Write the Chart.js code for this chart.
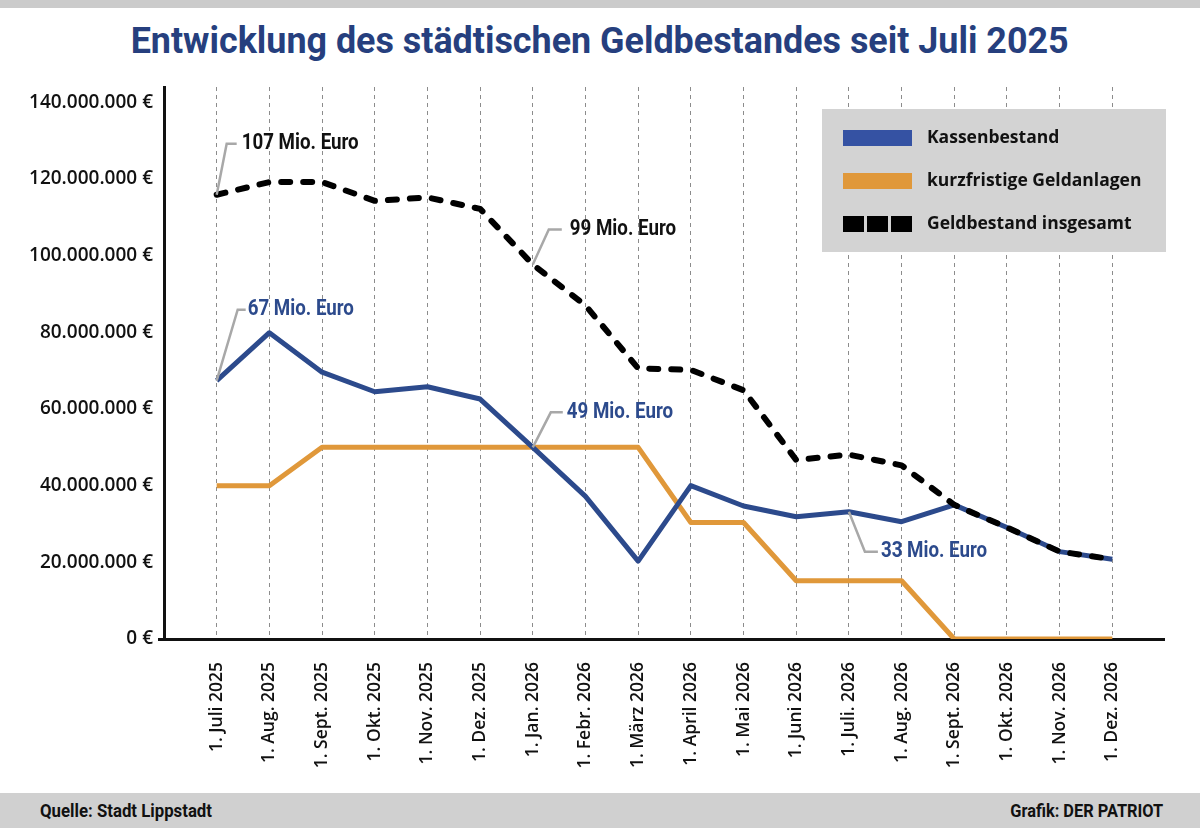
<!DOCTYPE html>
<html lang="de">
<head>
<meta charset="utf-8">
<title>Entwicklung des städtischen Geldbestandes seit Juli 2025</title>
<script src="https://cdn.jsdelivr.net/npm/chart.js@4/dist/chart.umd.min.js"></script>
<style>
  body { margin: 0; width: 1200px; height: 828px; background: #fff; position: relative; overflow: hidden; }
  .topbar { position: absolute; left: 0; top: 0; width: 1200px; height: 8px; background: #cbcbcb; }
  h1 {
    position: absolute; left: 0; top: 22px; width: 1200px; margin: 0;
    text-align: center; font: bold 37px/37px Roboto, sans-serif;
    color: #263f7e; white-space: nowrap;
  }
  h1 span { display: inline-block; transform-origin: center; }
  .footer {
    position: absolute; left: 0; top: 793px; width: 1200px; height: 35px; background: #d0d0d0;
    font: bold 18px/35px Roboto, sans-serif; color: #111; white-space: nowrap;
  }
  .footer span { position: absolute; display: inline-block; }
  .footer .left { left: 40px; transform-origin: left center; }
  .footer .right { right: 37px; transform-origin: right center; }
  #chart { position: absolute; left: 0; top: 0; }
</style>
</head>
<body>
<div class="topbar"></div>
<h1><span data-w="938">Entwicklung des städtischen Geldbestandes seit Juli 2025</span></h1>
<canvas id="chart" width="1200" height="828"></canvas>
<div class="footer"><span class="left" data-w="172">Quelle: Stadt Lippstadt</span><span class="right" data-w="153">Grafik: DER PATRIOT</span></div>
<script>
// Stichtage (x-Achse)
const monate = ['1. Juli 2025', '1. Aug. 2025', '1. Sept. 2025', '1. Okt. 2025', '1. Nov. 2025', '1. Dez. 2025',
    '1. Jan. 2026', '1. Febr. 2026', '1. März 2026', '1. April 2026', '1. Mai 2026', '1. Juni 2026',
    '1. Juli. 2026', '1. Aug. 2026', '1. Sept. 2026', '1. Okt. 2026', '1. Nov. 2026', '1. Dez. 2026'];

// Werte in Mio. Euro
const kassenbestand = [67.4, 79.9, 69.6, 64.5, 65.8, 62.6, 50, 37.2, 20.3, 40, 34.7, 31.9, 33.2, 30.6, 35, 29.1, 22.8, 20.8];
const geldanlagen = [40, 40, 50, 50, 50, 50, 50, 50, 50, 30.4, 30.4, 15.2, 15.2, 15.2, 0, 0, 0, 0];
const geldbestand = [115.9, 119.2, 119.2, 114.3, 115.2, 112.2, 97.7, 87, 70.6, 70.2, 64.9, 46.7, 48.1, 45.3, 35, 29.1, 22.8, 20.8];

// y-Achse (Mio. Euro)
const yTicks = [0, 20, 40, 60, 80, 100, 120, 140];
const yMax = 144;

const blau = '#2c4a8c';
const orange = '#e0983a';

// schmale Schrift nachbilden: Text auf Breite aus der Vorlage stauchen
document.querySelectorAll('[data-w]').forEach(el => {
    const w = el.getBoundingClientRect().width;
    el.style.transform = 'scaleX(' + (+el.dataset.w / w) + ')';
});

function toPoints(arr) {
    return arr.map((v, i) => ({ x: i, y: v * 1e6 }));
}

function euro(v) {
    return String(Math.round(v)).replace(/\B(?=(\d{3})+(?!\d))/g, '.') + ' €';
}

// Beschriftungen mit Hinweislinie
const hinweise = [
    { ds: 2, index: 0, text: '107 Mio. Euro', color: '#111', elbow: [10, -51], end: 20, textX: 25 },
    { ds: 0, index: 0, text: '67 Mio. Euro', color: blau, elbow: [21, -71], end: 29, textX: 31 },
    { ds: 2, index: 6, text: '99 Mio. Euro', color: '#111', elbow: [16, -35], end: 29, textX: 37 },
    { ds: 0, index: 6, text: '49 Mio. Euro', color: blau, elbow: [18, -35], end: 30, textX: 34 },
    { ds: 0, index: 12, text: '33 Mio. Euro', color: blau, elbow: [16, 40], end: 29, textX: 32 }
];

const hinweisPlugin = {
    id: 'hinweise',
    afterDatasetsDraw(chart) {
        const ctx = chart.ctx;
        const xs = chart.scales.x, ys = chart.scales.y;
        ctx.save();
        ctx.font = 'bold 22px Roboto, sans-serif';
        const stauchung = 117 / ctx.measureText('107 Mio. Euro').width;
        hinweise.forEach(h => {
            const p = chart.data.datasets[h.ds].data[h.index];
            const px = xs.getPixelForValue(p.x), py = ys.getPixelForValue(p.y);
            const ty = py + h.elbow[1];
            ctx.strokeStyle = '#a8a8a8';
            ctx.lineWidth = 2.5;
            ctx.beginPath();
            ctx.moveTo(px, py);
            ctx.lineTo(px + h.elbow[0], ty);
            ctx.lineTo(px + h.end, ty);
            ctx.stroke();
            ctx.save();
            ctx.translate(px + h.textX, ty);
            ctx.scale(stauchung, 1);
            ctx.fillStyle = h.color;
            ctx.textBaseline = 'middle';
            ctx.textAlign = 'left';
            ctx.fillText(h.text, 0, 0);
            ctx.restore();
        });
        ctx.restore();
    }
};

// Legende als graue Box oben rechts
const legendePlugin = {
    id: 'legendeBox',
    afterDraw(chart) {
        const ctx = chart.ctx;
        const a = chart.chartArea;
        const bx = a.right - 343, by = a.top + 22, bw = 344, bh = 143;
        ctx.save();
        ctx.fillStyle = '#d3d3d3';
        ctx.fillRect(bx, by, bw, bh);
        chart.data.datasets.forEach((ds, i) => {
            const cy = by + 29 + i * 43;
            const sx = bx + 21;
            ctx.fillStyle = ds.legendColor || ds.borderColor;
            if (ds.borderDash) {
                for (let k = 0; k < 3; k++) ctx.fillRect(sx + k * 24, cy - 8, 21, 16);
            } else {
                ctx.fillRect(sx, cy - 8, 69, 16);
            }
            ctx.fillStyle = '#111';
            ctx.font = 'bold 17.5px "Open Sans", sans-serif';
            ctx.textBaseline = 'middle';
            ctx.fillText(ds.label, bx + 105, cy);
        });
        ctx.restore();
    }
};

Chart.defaults.font.family = '"Open Sans", sans-serif';
Chart.defaults.color = '#111';

const ctx = document.getElementById('chart').getContext('2d');
const chart = new Chart(ctx, {
    type: 'line',
    data: {
        datasets: [
            {
                label: 'Kassenbestand',
                data: toPoints(kassenbestand),
                borderColor: blau,
                legendColor: '#3552a3',
                borderWidth: 5,
                order: 1
            },
            {
                label: 'kurzfristige Geldanlagen',
                data: toPoints(geldanlagen),
                borderColor: orange,
                borderWidth: 5,
                order: 2
            },
            {
                label: 'Geldbestand insgesamt',
                data: toPoints(geldbestand),
                borderColor: '#000',
                borderWidth: 6,
                borderDash: [9, 13],
                borderCapStyle: 'round',
                order: 0
            }
        ]
    },
    options: {
        responsive: false,
        animation: false,
        events: [],
        elements: {
            point: { radius: 0 },
            line: { tension: 0, borderJoinStyle: 'round' }
        },
        layout: { padding: { top: 87, right: 35, bottom: 34, left: 0 } },
        plugins: {
            legend: { display: false },
            tooltip: { enabled: false },
            title: { display: false }
        },
        scales: {
            x: {
                type: 'linear',
                min: -1,
                max: monate.length,
                afterBuildTicks: s => { s.ticks = monate.map((_, i) => ({ value: i })); },
                afterFit: s => { s.height = 155; },
                ticks: {
                    autoSkip: false,
                    minRotation: 90,
                    maxRotation: 90,
                    padding: 23,
                    color: '#111',
                    font: { size: 17.5, weight: 600 },
                    callback: v => monate[v] ?? ''
                },
                grid: { color: '#8c8c8c', lineWidth: 1, drawTicks: false },
                border: { display: false, dash: [4, 4] }
            },
            y: {
                min: 0,
                max: yMax * 1e6,
                afterBuildTicks: s => { s.ticks = yTicks.map(v => ({ value: v * 1e6 })); },
                afterFit: s => { s.width = 164; },
                ticks: {
                    padding: 5,
                    color: '#111',
                    font: { size: 19, weight: 600 },
                    callback: v => euro(v)
                },
                grid: {
                    drawTicks: true,
                    tickLength: 6,
                    lineWidth: 3,
                    color: c => (c.tick && c.tick.value === 0) ? '#111' : 'rgba(0,0,0,0)'
                },
                border: { display: true, color: '#111', width: 3 }
            }
        }
    },
    plugins: [hinweisPlugin, legendePlugin]
});
</script>
</body>
</html>
